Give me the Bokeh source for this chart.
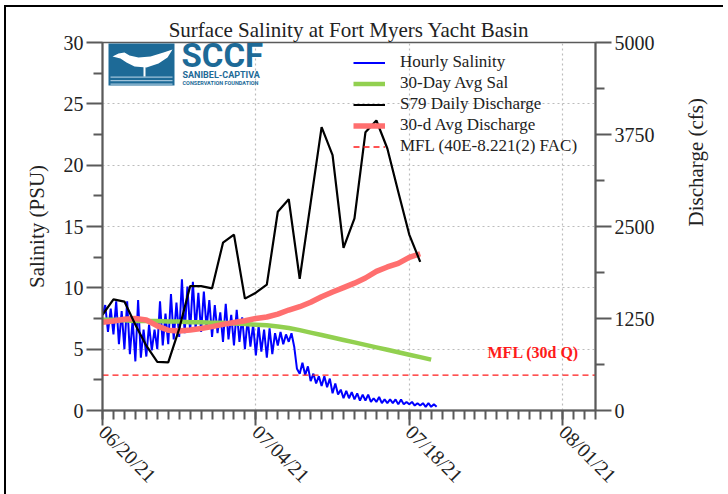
import math
import datetime as dt
from bokeh.plotting import figure
from bokeh.models import (Range1d, LinearAxis, FixedTicker, DatetimeTickFormatter,
                          Legend, LegendItem, Label, BoxAnnotation, PolyAnnotation)
from bokeh.embed import file_html
from bokeh.resources import INLINE

# ---------------- data ----------------
series_start = dt.datetime(2021, 6, 20)
x_axis_start = dt.datetime(2021, 6, 20)
x_axis_end = dt.datetime(2021, 8, 4)
date_ticks = [dt.datetime(2021, 6, 20), dt.datetime(2021, 7, 4),
              dt.datetime(2021, 7, 18), dt.datetime(2021, 8, 1)]
salinity_ticks = [0, 5, 10, 15, 20, 25, 30]
salinity_minor = [2.5, 7.5, 12.5, 17.5, 22.5, 27.5]
discharge_ticks = [0, 1250, 2500, 3750, 5000]
discharge_minor = [625, 1875, 3125, 4375]

# hourly salinity, sampled every 6 hours (PSU)
hourly_salinity = [
    7.8, 8.6, 6.4, 8.3,   6.2, 8.9, 5.4, 8.1,   5.0, 8.9, 4.6, 7.4,
    4.0, 9.0, 4.3, 6.6,   4.4, 7.0, 4.9, 6.6,   5.0, 8.9, 5.3, 7.9,
    5.4, 9.5, 5.8, 8.8,   6.0, 10.7, 6.3, 10.1, 6.4, 10.5, 6.6, 9.6,
    6.4, 9.7, 6.7, 9.0,   6.0, 8.6, 6.3, 8.0,   5.6, 8.7, 5.8, 7.8,
    5.3, 8.2, 5.6, 7.6,   5.0, 7.5, 5.2, 7.0,   4.5, 6.9, 4.8, 6.6,
    4.3, 6.7, 4.6, 6.3,   5.3, 6.4, 5.4, 6.2,   5.6, 6.3, 5.2, 3.4,
    3.0, 3.9, 2.9, 3.6,   2.4, 3.0, 2.2, 2.8,   2.0, 2.8, 1.9, 2.6,
    1.4, 2.2, 1.3, 1.7,   1.0, 1.6, 1.0, 1.5,   0.9, 1.4, 0.8, 1.3,
    0.8, 1.3, 0.7, 1.0,   0.7, 1.1, 0.6, 0.9,   0.6, 0.9, 0.6, 0.9,
    0.5, 0.9, 0.5, 0.7,   0.5, 0.7, 0.4, 0.6,   0.4, 0.6, 0.3, 0.6,
    0.3, 0.5, 0.3,
]
# 30-day average salinity, daily (PSU)
avg30_salinity = [7.4, 7.4, 7.35, 7.3, 7.3, 7.3, 7.25, 7.25, 7.2, 7.2, 7.15,
                  7.15, 7.1, 7.05, 7.0, 6.95, 6.85, 6.72, 6.55, 6.35, 6.15,
                  5.95, 5.75, 5.55, 5.35, 5.15, 4.95, 4.75, 4.55, 4.35, 4.15]
# S79 daily discharge (cfs)
s79_discharge = [1300, 1510, 1480, 1165, 880, 660, 655, 1110, 1690, 1690,
                 1660, 2280, 2390, 1520, 1600, 1710, 2700, 2870, 1790, 2820,
                 3850, 3470, 2210, 2610, 3780, 3940, 3560, 2970, 2390, 2020]
# 30-day average discharge (cfs)
avg30_discharge = [1200, 1215, 1240, 1250, 1230, 1150, 1090, 1080, 1095, 1115,
                   1140, 1170, 1195, 1220, 1250, 1270, 1310, 1365, 1410, 1470,
                   1545, 1610, 1670, 1730, 1800, 1890, 1950, 2000, 2080, 2130]
mfl_discharge = 480

chart_title = "Surface Salinity at Fort Myers Yacht Basin"
left_label = "Salinity (PSU)"
right_label = "Discharge (cfs)"
mfl_text = "MFL (30d Q)"

# ---------------- helpers ----------------
EPOCH = dt.datetime(1970, 1, 1)


def ms(d):
    return (d - EPOCH).total_seconds() * 1000.0


t_hourly = [series_start + dt.timedelta(hours=6 * i) for i in range(len(hourly_salinity))]
t_sal = [series_start + dt.timedelta(days=i) for i in range(len(avg30_salinity))]
t_q = [series_start + dt.timedelta(days=i) for i in range(len(s79_discharge))]
t_qa = [series_start + dt.timedelta(days=i) for i in range(len(avg30_discharge))]

SERIF = "Liberation Serif"
AX = "#5a5a5a"
TXT = "#222222"

p = figure(frame_width=493, frame_height=368, x_axis_type="datetime",
           x_range=Range1d(ms(x_axis_start), ms(x_axis_end)),
           y_range=Range1d(0, 30),
           output_backend="svg", toolbar_location=None,
           min_border_left=96, min_border_right=128,
           min_border_top=35, min_border_bottom=81,
           title=chart_title)
p.extra_y_ranges = {"q": Range1d(0, 5000)}
p.margin = (5, 0, 0, 4)
p.styles = {"border-left": "2px solid black", "border-top": "2px solid black",
            "border-bottom": "2px solid black"}

p.title.text_font = SERIF
p.title.text_font_size = "21px"
p.title.text_font_style = "normal"
p.title.text_color = TXT
p.title.align = "center"
p.title.standoff = 2

p.outline_line_color = AX
p.outline_line_width = 1.5
p.background_fill_color = "white"
p.border_fill_color = "white"

# x axis
xa = p.xaxis[0]
xa.ticker = FixedTicker(ticks=[ms(d) for d in date_ticks],
                        minor_ticks=[ms(x_axis_start + dt.timedelta(days=i)) for i in range(46)])
fmt = "%m/%d/%y"
xa.formatter = DatetimeTickFormatter(days=fmt, months=fmt, years=fmt, hours=fmt,
                                     minutes=fmt, seconds=fmt, milliseconds=fmt,
                                     microseconds=fmt, hourmin=fmt, minsec=fmt)
xa.major_label_orientation = -math.pi / 4

# left axis
ya = p.yaxis[0]
ya.ticker = FixedTicker(ticks=salinity_ticks, minor_ticks=salinity_minor)
ya.axis_label = left_label
ya.axis_label_standoff = 12

ra = LinearAxis(y_range_name="q", axis_label=right_label,
                ticker=FixedTicker(ticks=discharge_ticks, minor_ticks=discharge_minor))
ra.axis_label_standoff = 38
if "axis_label_orientation" in ra.properties():
    ra.axis_label_orientation = math.pi / 2
p.add_layout(ra, "right")

for ax in [xa, ya, ra]:
    ax.axis_line_color = AX
    ax.axis_line_width = 2
    ax.major_tick_line_color = AX
    ax.minor_tick_line_color = AX
    ax.major_tick_line_width = 2
    ax.minor_tick_line_width = 2
    ax.major_tick_in = 0
    ax.minor_tick_in = 0
    ax.major_tick_out = 16
    ax.minor_tick_out = 9
    ax.major_label_text_font = SERIF
    ax.major_label_text_font_size = "20px"
    ax.major_label_text_color = TXT
    ax.major_label_standoff = 3
    ax.axis_label_text_font = SERIF
    ax.axis_label_text_font_size = "21px"
    ax.axis_label_text_font_style = "normal"
    ax.axis_label_text_color = TXT
xa.major_tick_out = 15

p.xgrid.ticker = FixedTicker(ticks=[ms(d) for d in date_ticks])
p.ygrid.ticker = FixedTicker(ticks=salinity_ticks)
for g in [p.xgrid[0], p.ygrid[0]]:
    g.grid_line_color = "#bcbcbc"
    g.grid_line_dash = "2 3"
    g.grid_line_width = 1.2

# ---------------- data lines ----------------
r_blue = p.line(t_hourly, hourly_salinity, line_color="#0000ff", line_width=2)
r_green = p.line(t_sal, avg30_salinity, line_color="#92d050", line_width=4.5)
r_red = p.line(t_qa, avg30_discharge, line_color="#ff6f6f", line_width=5.5,
               y_range_name="q")
r_mfl = p.line([x_axis_start, x_axis_end], [mfl_discharge, mfl_discharge],
               line_color="#ff1a1a", line_width=1.3, line_dash="6 4", y_range_name="q")
r_black = p.line(t_q, s79_discharge, line_color="black", line_width=2.2,
                 y_range_name="q")

legend = Legend(items=[
    LegendItem(label="Hourly Salinity", renderers=[r_blue]),
    LegendItem(label="30-Day Avg Sal", renderers=[r_green]),
    LegendItem(label="S79 Daily Discharge", renderers=[r_black]),
    LegendItem(label="30-d Avg Discharge", renderers=[r_red]),
    LegendItem(label="MFL (40E-8.221(2) FAC)", renderers=[r_mfl]),
], location=(251, 254))
legend.background_fill_alpha = 0
legend.border_line_color = None
legend.padding = 0
legend.margin = 0
legend.spacing = 1
legend.glyph_width = 32
legend.glyph_height = 19
legend.label_height = 19
legend.label_standoff = 15
legend.label_text_font = SERIF
legend.label_text_font_size = "17px"
legend.label_text_color = TXT
p.add_layout(legend)

# ---------------- annotations ----------------
# pixel positions inside the page -> data coordinates of the frame
FL, FR, FT, FB = 102.0, 595.0, 42.0, 410.0
X0, X1 = ms(x_axis_start), ms(x_axis_end)


def px2x(px):
    return X0 + (px - FL) / (FR - FL) * (X1 - X0)


def py2y(py):
    return (FB - py) / (FB - FT) * 30.0


p.add_layout(Label(x=px2x(487), y=py2y(352), text=mfl_text,
                   text_font=SERIF, text_font_size="16px", text_font_style="bold",
                   text_color="#ff1a1a", text_baseline="middle"))

# SCCF logo (drawn)
LOGO = "#1d6a97"
p.add_layout(BoxAnnotation(left=px2x(108), right=px2x(174), top=py2y(43), bottom=py2y(85),
                           fill_color=LOGO, fill_alpha=1, line_color=None))
for yy in (76, 79.5, 83):
    p.add_layout(BoxAnnotation(left=px2x(110), right=px2x(172), top=py2y(yy), bottom=py2y(yy + 1.2),
                               fill_color="#9fc3da", fill_alpha=1, line_color=None))
bird_px = [(112, 56), (118, 53), (124, 52), (129, 55), (138, 57), (150, 56),
           (163, 52), (172, 49), (167, 57), (158, 63), (146, 67), (134, 66),
           (126, 62), (120, 58)]
p.add_layout(PolyAnnotation(xs=[px2x(a) for a, b in bird_px], ys=[py2y(b) for a, b in bird_px],
                            fill_color="white", fill_alpha=1, line_color=None))
p.add_layout(BoxAnnotation(left=px2x(143), right=px2x(145), top=py2y(66), bottom=py2y(76),
                           fill_color="white", fill_alpha=1, line_color=None))
p.add_layout(Label(x=px2x(181), y=py2y(55), text="SCCF", text_font="Roboto",
                   text_font_style="bold", text_font_size="33px", text_color=LOGO,
                   text_baseline="middle"))
p.add_layout(Label(x=px2x(182), y=py2y(74), text="SANIBEL-CAPTIVA", text_font="Roboto",
                   text_font_style="bold", text_font_size="9px", text_color=LOGO,
                   text_baseline="middle"))
p.add_layout(Label(x=px2x(182), y=py2y(82.5), text="CONSERVATION FOUNDATION", text_font="Roboto",
                   text_font_style="bold", text_font_size="5.5px", text_color=LOGO,
                   text_baseline="middle"))

open("out.html", "w").write(file_html(p, INLINE))
